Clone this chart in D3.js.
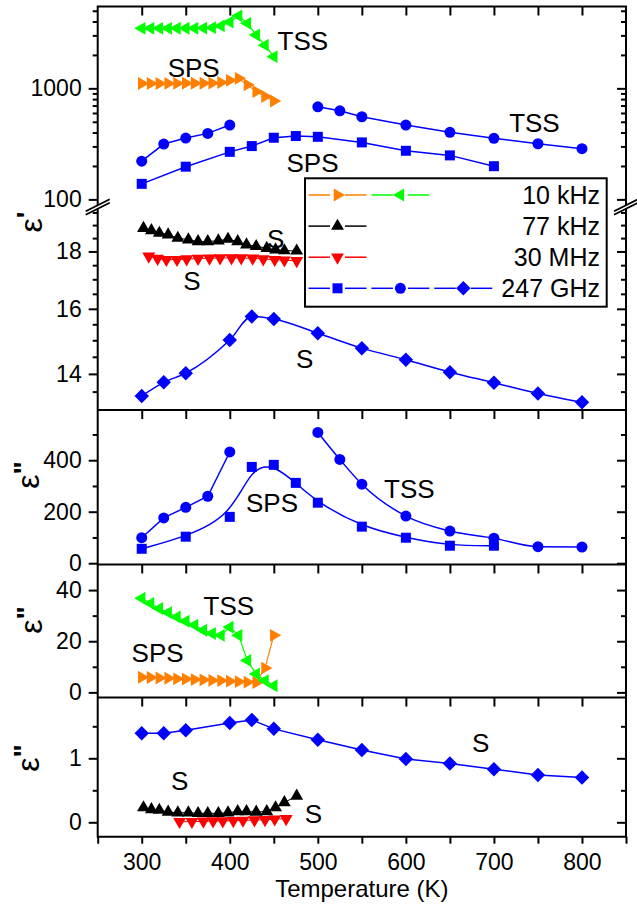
<!DOCTYPE html>
<html>
<head>
<meta charset="utf-8">
<script src="https://cdn.jsdelivr.net/npm/d3@7"></script>
<style>
  body { margin: 0; background: #fff; }
  svg { display: block; font-family: "Liberation Sans", Arial, sans-serif; }
</style>
</head>
<body>
<div id="chart"></div>
<script>
/**
 * DATA
 * */
// 10 kHz sweep, SPS and TSS samples
const temps10k = [300, 310, 320, 330, 340, 350, 360, 370, 380, 390, 400, 410, 420, 430, 440, 450];
const eps1SPS10k = [1105, 1105, 1105, 1108, 1108, 1110, 1110, 1112, 1115, 1130, 1180, 1230, 1075, 935, 845, 770];
const eps1TSS10k = [3470, 3470, 3470, 3470, 3475, 3480, 3480, 3490, 3520, 3650, 3950, 4500, 3850, 3020, 2450, 1930];
const eps2SPS10k = [5.9, 5.8, 5.6, 5.5, 5.3, 5.2, 5.0, 4.9, 4.7, 4.6, 4.4, 4.2, 4.0, 3.8, 9.5, 22.3];
const eps2TSS10k = [36.8, 34.8, 32.8, 31.2, 29.5, 27.8, 26.3, 24.3, 23.0, 22.3, 25.5, 22.3, 12.5, 7.2, 4.6, 2.6];

// 77 kHz, S sample
const temps77k = [302, 311, 320, 330, 341, 353, 364, 375, 387, 398, 409, 419, 430, 442, 452, 462, 476];
const eps1S77k = [18.88, 18.79, 18.69, 18.63, 18.5, 18.44, 18.37, 18.37, 18.4, 18.46, 18.37, 18.25, 18.19, 18.12, 18.06, 18.03, 18.02];
const eps2S77k = [0.23, 0.2, 0.19, 0.16, 0.15, 0.15, 0.14, 0.14, 0.14, 0.15, 0.17, 0.17, 0.16, 0.17, 0.23, 0.31, 0.41];

// 30 MHz, S sample
const temps30M1 = [308, 318, 328, 340, 351, 364, 377, 389, 402, 413, 426, 438, 451, 462, 476];
const eps1S30M = [17.82, 17.74, 17.7, 17.7, 17.72, 17.74, 17.75, 17.76, 17.76, 17.76, 17.75, 17.72, 17.7, 17.68, 17.66];
const temps30M2 = [343, 357, 370, 381, 392, 404, 415, 428, 440, 451, 464];
const eps2S30M = [0.01, 0.01, 0.015, 0.02, 0.02, 0.025, 0.03, 0.035, 0.04, 0.05, 0.055];

// 247 GHz
const tempsSPS = [300, 350, 400, 425, 450, 475, 500, 550, 600, 650, 700];
const eps1SPS = [138, 197, 268, 302, 359, 372, 366, 326, 274, 249, 199];
const eps2SPS = [56, 103, 180, 374, 382, 312, 235, 142, 99, 68, 68];

const tempsTSSa = [300, 325, 350, 375, 400];
const eps1TSSa = [221, 315, 357, 393, 467];
const eps2TSSa = [99, 176, 217, 260, 432];
const tempsTSSb = [500, 525, 550, 600, 650, 700, 750, 800];
const eps1TSSb = [682, 628, 555, 467, 402, 355, 317, 286];
const eps2TSSb = [508, 403, 307, 183, 125, 97, 64, 63];

const tempsS = [300, 325, 350, 400, 425, 450, 500, 550, 600, 650, 700, 750, 800];
const eps1S = [13.38, 13.76, 14.02, 15.01, 15.75, 15.67, 15.22, 14.76, 14.41, 14.05, 13.75, 13.45, 13.21];
const eps2S = [1.39, 1.39, 1.44, 1.55, 1.6, 1.46, 1.29, 1.13, 0.99, 0.92, 0.83, 0.74, 0.7];

// axis ticks
const xTicks = [250, 300, 350, 400, 450, 500, 550, 600, 650, 700, 750, 800, 850];
const xLabels = [300, 400, 500, 600, 700, 800];
const legendLabels = ["10 kHz", "77 kHz", "30 MHz", "247 GHz"];

/**
 * CONSTANTS AND GLOBALS
 * */
const width = 637, height = 908;
const left = 97.7, right = 626;

const x = d3.scaleLinear().domain([250, 850]).range([left, right]);

// five stacked panels sharing the temperature axis
const y = {
  p1: d3.scaleLog().domain([89, 5460]).range([205, 6.5]),
  p2: d3.scaleLog().domain([13, 19.8]).range([410, 205]),
  p3: d3.scaleLinear().domain([-5, 595]).range([564.5, 410]),
  p4: d3.scaleLinear().domain([-2, 50]).range([697.5, 564.5]),
  p5: d3.scaleLinear().domain([-0.225, 1.95]).range([836.7, 697.5])
};

const yTicks = {
  p1: { major: [100, 1000], minor: [200, 300, 400, 500, 600, 700, 800, 900, 2000, 3000, 4000, 5000] },
  p2: { major: [14, 16, 18], minor: [13.5, 14.5, 15, 15.5, 16.5, 17, 17.5, 18.5, 19, 19.5] },
  p3: { major: [0, 200, 400], minor: [100, 300, 500] },
  p4: { major: [0, 20, 40], minor: [10, 30] },
  p5: { major: [0, 1], minor: [0.5, 1.5] }
};

const BLUE = "#0000ff", ORANGE = "#ff8000", GREEN = "#00ff00", RED = "#ff0000", BLACK = "#000";

const shapes = {
  circle: { type: d3.symbolCircle, size: 95, rot: 0 },
  square: { type: d3.symbolSquare, size: 100, rot: 0 },
  diamond: { type: d3.symbolSquare, size: 105, rot: 45 },
  up: { type: d3.symbolTriangle, size: 72, rot: 0 },
  down: { type: d3.symbolTriangle, size: 72, rot: 180 },
  right: { type: d3.symbolTriangle, size: 72, rot: 90 },
  left: { type: d3.symbolTriangle, size: 72, rot: -90 }
};

const series = [
  { p: "p1", t: temps10k, v: eps1SPS10k, color: ORANGE, shape: "right", w: 1.2 },
  { p: "p1", t: temps10k, v: eps1TSS10k, color: GREEN, shape: "left", w: 1.2 },
  { p: "p1", t: tempsSPS, v: eps1SPS, color: BLUE, shape: "square", w: 1.5 },
  { p: "p1", t: tempsTSSa, v: eps1TSSa, color: BLUE, shape: "circle", w: 1.5 },
  { p: "p1", t: tempsTSSb, v: eps1TSSb, color: BLUE, shape: "circle", w: 1.5 },
  { p: "p2", t: temps30M1, v: eps1S30M, color: RED, shape: "down", w: 1 },
  { p: "p2", t: temps77k, v: eps1S77k, color: BLACK, shape: "up", w: 1 },
  { p: "p2", t: tempsS, v: eps1S, color: BLUE, shape: "diamond", w: 1.5, curve: d3.curveMonotoneX },
  { p: "p3", t: tempsSPS, v: eps2SPS, color: BLUE, shape: "square", w: 1.5, curve: d3.curveBasis },
  { p: "p3", t: tempsTSSa, v: eps2TSSa, color: BLUE, shape: "circle", w: 1.5 },
  { p: "p3", t: tempsTSSb, v: eps2TSSb, color: BLUE, shape: "circle", w: 1.5, curve: d3.curveMonotoneX },
  { p: "p4", t: temps10k, v: eps2SPS10k, color: ORANGE, shape: "right", w: 1.2 },
  { p: "p4", t: temps10k, v: eps2TSS10k, color: GREEN, shape: "left", w: 1.2 },
  { p: "p5", t: temps30M2, v: eps2S30M, color: RED, shape: "down", w: 1 },
  { p: "p5", t: temps77k, v: eps2S77k, color: BLACK, shape: "up", w: 1 },
  { p: "p5", t: tempsS, v: eps2S, color: BLUE, shape: "diamond", w: 1.5 }
];

// sample names written next to the curves (temperature, value, panel)
const notes = [
  { text: "TSS", t: 483, v: 2213, p: "p1" },
  { text: "SPS", t: 359, v: 1265, p: "p1" },
  { text: "TSS", t: 746, v: 404, p: "p1" },
  { text: "SPS", t: 494, v: 176, p: "p1" },
  { text: "S", t: 452, v: 18.14, p: "p2" },
  { text: "S", t: 357, v: 16.64, p: "p2" },
  { text: "S", t: 485, v: 14.17, p: "p2" },
  { text: "SPS", t: 448, v: 199, p: "p3" },
  { text: "TSS", t: 604, v: 253, p: "p3" },
  { text: "TSS", t: 399, v: 30.2, p: "p4" },
  { text: "SPS", t: 318, v: 11.7, p: "p4" },
  { text: "S", t: 343, v: 0.5, p: "p5" },
  { text: "S", t: 495, v: -0.01, p: "p5" },
  { text: "S", t: 685, v: 1.1, p: "p5" }
];

/**
 * DRAW
 * */
const svg = d3.select("#chart").append("svg")
  .attr("width", width)
  .attr("height", height);

const symbolPath = (shape) => d3.symbol(shapes[shape].type, shapes[shape].size)();

// y axes, left (outward, labelled) and right (inward)
Object.keys(y).forEach(key => {
  const sc = y[key];
  const gl = svg.append("g").attr("transform", `translate(${left},0)`)
    .call(d3.axisLeft(sc).tickValues(yTicks[key].major).tickSize(9).tickPadding(7).tickFormat(d3.format("")));
  const glm = svg.append("g").attr("transform", `translate(${left},0)`)
    .call(d3.axisLeft(sc).tickValues(yTicks[key].minor).tickSize(5).tickFormat(""));
  const gr = svg.append("g").attr("transform", `translate(${right},0)`)
    .call(d3.axisRight(sc).tickValues(yTicks[key].major).tickSize(-9).tickFormat(""));
  const grm = svg.append("g").attr("transform", `translate(${right},0)`)
    .call(d3.axisRight(sc).tickValues(yTicks[key].minor).tickSize(-5).tickFormat(""));
  [gl, glm, gr, grm].forEach(g => {
    g.select(".domain").remove();
    g.selectAll("line").attr("stroke-width", 2);
    g.attr("font-size", 23).attr("font-family", null);
  });
});

// top ticks of every panel point down into the panel
[6.5, 410, 564.5, 697.5].forEach(yy => {
  const g = svg.append("g").attr("transform", `translate(0,${yy})`)
    .call(d3.axisBottom(x).tickValues(xTicks.slice(1, -1)).tickSize(9).tickFormat(""));
  g.select(".domain").remove();
  g.selectAll("line").attr("stroke-width", 2);
});

// bottom axis
const gx = svg.append("g").attr("transform", "translate(0,836.7)")
  .call(d3.axisBottom(x).tickValues(xTicks).tickSize(7).tickPadding(10)
    .tickFormat(d => xLabels.includes(d) ? d : ""));
gx.select(".domain").remove();
gx.selectAll("line").attr("stroke-width", 2);
gx.attr("font-size", 23).attr("font-family", null);

// frame lines
const frame = svg.append("g").attr("stroke", "#000").attr("stroke-width", 2).attr("fill", "none");
const brk = 207;
frame.append("path").attr("d",
  `M${left},${brk - 1.8}V6.5H${right}V${brk - 1.8}` +
  `M${left},${brk + 1.8}V836.7H${right}V${brk + 1.8}`);
[410, 564.5, 697.5].forEach(yy => {
  frame.append("line").attr("x1", left).attr("x2", right).attr("y1", yy).attr("y2", yy);
});
// axis break marks
[left, right].forEach(xx => {
  [-1.8, 1.8].forEach(off => {
    frame.append("line")
      .attr("x1", xx - 12).attr("y1", brk + off + 6)
      .attr("x2", xx + 12).attr("y2", brk + off - 6)
      .attr("stroke-width", 1.8);
  });
});

// data series
series.forEach(s => {
  const pts = s.t.map((t, i) => [x(t), y[s.p](s.v[i])]);
  const line = d3.line().curve(s.curve || d3.curveLinear);
  svg.append("path")
    .attr("d", line(pts))
    .attr("fill", "none")
    .attr("stroke", s.color)
    .attr("stroke-width", s.w);
  svg.append("g").selectAll("path")
    .data(pts)
    .join("path")
    .attr("d", symbolPath(s.shape))
    .attr("transform", d => `translate(${d[0]},${d[1]}) rotate(${shapes[s.shape].rot})`)
    .attr("fill", s.color);
});

// legend
const legend = svg.append("g");
legend.append("rect")
  .attr("x", 305).attr("y", 178.3).attr("width", 301.7).attr("height", 128.4)
  .attr("fill", "#fff").attr("stroke", "#000").attr("stroke-width", 2);

const legendRows = [
  [{ color: ORANGE, shape: "right" }, { color: GREEN, shape: "left" }],
  [{ color: BLACK, shape: "up" }],
  [{ color: RED, shape: "down" }],
  [{ color: BLUE, shape: "square" }, { color: BLUE, shape: "circle" }, { color: BLUE, shape: "diamond" }]
];

legendRows.forEach((row, r) => {
  const ly = 195 + r * 31.1;
  row.forEach((item, c) => {
    const cx = 337.5 + c * 62.9;
    [[cx - 29, cx - 7.5], [cx + 7.5, cx + 29]].forEach(seg => {
      legend.append("line")
        .attr("x1", seg[0]).attr("x2", seg[1]).attr("y1", ly).attr("y2", ly)
        .attr("stroke", item.color).attr("stroke-width", 1.5);
    });
    legend.append("path")
      .attr("d", symbolPath(item.shape))
      .attr("transform", `translate(${cx},${ly}) rotate(${shapes[item.shape].rot})`)
      .attr("fill", item.color);
  });
  legend.append("text")
    .attr("x", 600).attr("y", ly).attr("dy", "0.36em")
    .attr("text-anchor", "end")
    .attr("font-size", 25)
    .text(legendLabels[r]);
});

// curve annotations
svg.append("g").selectAll("text")
  .data(notes)
  .join("text")
  .attr("x", d => x(d.t))
  .attr("y", d => y[d.p](d.v))
  .attr("text-anchor", "middle")
  .attr("font-size", 26)
  .text(d => d.text);

// y axis titles
const yTitles = [
  { primes: "'", pos: 222, bx: 42 },
  { primes: "\"", pos: 475, bx: 39 },
  { primes: "\"", pos: 620, bx: 42 },
  { primes: "\"", pos: 758, bx: 39 }
];
yTitles.forEach(d => {
  const t = svg.append("text")
    .attr("transform", `translate(${d.bx},${d.pos}) rotate(-90)`)
    .attr("text-anchor", "middle")
    .attr("font-size", 32);
  t.append("tspan").text("ε");
  t.append("tspan").attr("dy", "-0.2em").attr("font-size", 28).attr("font-weight", "bold").text(d.primes);
});

// x axis title
svg.append("text")
  .attr("x", (left + right) / 2)
  .attr("y", 897)
  .attr("text-anchor", "middle")
  .attr("font-size", 24)
  .text("Temperature (K)");
</script>
</body>
</html>
